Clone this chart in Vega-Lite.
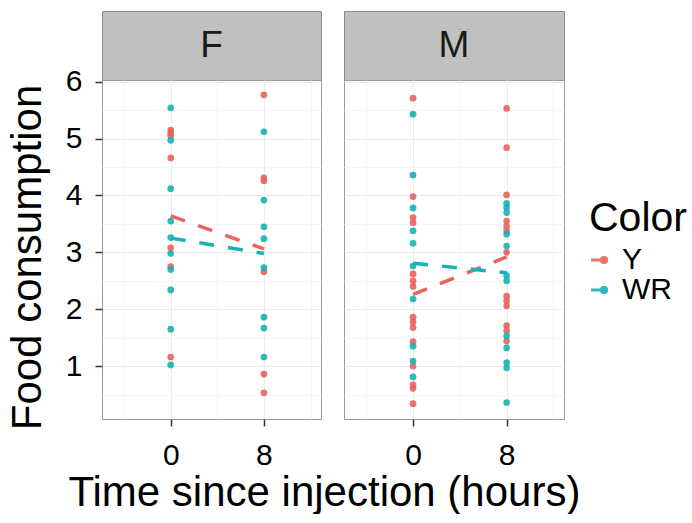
{
  "$schema": "https://vega.github.io/schema/vega-lite/v6.json",
  "padding": {"left": 5, "top": 10, "right": 0, "bottom": 0},
  "background": "white",
  "title": {"text": "Time since injection (hours)", "orient": "bottom", "anchor": "middle", "fontSize": 42, "fontWeight": "normal", "color": "#000000", "offset": 2, "dx": -22},
  "datasets": {
    "pts": [
      {"Sex":"F","Time":0,"Color":"Y","Food":5.15},{"Sex":"F","Time":0,"Color":"Y","Food":5.10},{"Sex":"F","Time":0,"Color":"Y","Food":5.05},{"Sex":"F","Time":0,"Color":"Y","Food":4.66},{"Sex":"F","Time":0,"Color":"Y","Food":3.08},{"Sex":"F","Time":0,"Color":"Y","Food":2.75},{"Sex":"F","Time":0,"Color":"Y","Food":1.16},
      {"Sex":"F","Time":8,"Color":"Y","Food":5.77},{"Sex":"F","Time":8,"Color":"Y","Food":4.31},{"Sex":"F","Time":8,"Color":"Y","Food":4.26},{"Sex":"F","Time":8,"Color":"Y","Food":2.66},{"Sex":"F","Time":8,"Color":"Y","Food":0.86},{"Sex":"F","Time":8,"Color":"Y","Food":0.53},
      {"Sex":"M","Time":0,"Color":"Y","Food":5.71},{"Sex":"M","Time":0,"Color":"Y","Food":3.98},{"Sex":"M","Time":0,"Color":"Y","Food":3.61},{"Sex":"M","Time":0,"Color":"Y","Food":3.52},{"Sex":"M","Time":0,"Color":"Y","Food":2.62},{"Sex":"M","Time":0,"Color":"Y","Food":2.50},{"Sex":"M","Time":0,"Color":"Y","Food":2.40},{"Sex":"M","Time":0,"Color":"Y","Food":1.86},{"Sex":"M","Time":0,"Color":"Y","Food":1.78},{"Sex":"M","Time":0,"Color":"Y","Food":1.68},{"Sex":"M","Time":0,"Color":"Y","Food":1.43},{"Sex":"M","Time":0,"Color":"Y","Food":1.00},{"Sex":"M","Time":0,"Color":"Y","Food":0.67},{"Sex":"M","Time":0,"Color":"Y","Food":0.61},{"Sex":"M","Time":0,"Color":"Y","Food":0.34},
      {"Sex":"M","Time":8,"Color":"Y","Food":5.53},{"Sex":"M","Time":8,"Color":"Y","Food":4.84},{"Sex":"M","Time":8,"Color":"Y","Food":4.01},{"Sex":"M","Time":8,"Color":"Y","Food":3.55},{"Sex":"M","Time":8,"Color":"Y","Food":3.46},{"Sex":"M","Time":8,"Color":"Y","Food":3.38},{"Sex":"M","Time":8,"Color":"Y","Food":3.00},{"Sex":"M","Time":8,"Color":"Y","Food":2.23},{"Sex":"M","Time":8,"Color":"Y","Food":2.15},{"Sex":"M","Time":8,"Color":"Y","Food":2.06},{"Sex":"M","Time":8,"Color":"Y","Food":1.71},{"Sex":"M","Time":8,"Color":"Y","Food":1.62},{"Sex":"M","Time":8,"Color":"Y","Food":1.44},
      {"Sex":"F","Time":0,"Color":"WR","Food":5.54},{"Sex":"F","Time":0,"Color":"WR","Food":4.97},{"Sex":"F","Time":0,"Color":"WR","Food":4.12},{"Sex":"F","Time":0,"Color":"WR","Food":3.55},{"Sex":"F","Time":0,"Color":"WR","Food":3.26},{"Sex":"F","Time":0,"Color":"WR","Food":2.98},{"Sex":"F","Time":0,"Color":"WR","Food":2.70},{"Sex":"F","Time":0,"Color":"WR","Food":2.34},{"Sex":"F","Time":0,"Color":"WR","Food":1.65},{"Sex":"F","Time":0,"Color":"WR","Food":1.02},
      {"Sex":"F","Time":8,"Color":"WR","Food":5.12},{"Sex":"F","Time":8,"Color":"WR","Food":3.92},{"Sex":"F","Time":8,"Color":"WR","Food":3.45},{"Sex":"F","Time":8,"Color":"WR","Food":3.24},{"Sex":"F","Time":8,"Color":"WR","Food":2.73},{"Sex":"F","Time":8,"Color":"WR","Food":1.86},{"Sex":"F","Time":8,"Color":"WR","Food":1.67},{"Sex":"F","Time":8,"Color":"WR","Food":1.16},
      {"Sex":"M","Time":0,"Color":"WR","Food":5.43},{"Sex":"M","Time":0,"Color":"WR","Food":4.36},{"Sex":"M","Time":0,"Color":"WR","Food":3.78},{"Sex":"M","Time":0,"Color":"WR","Food":3.38},{"Sex":"M","Time":0,"Color":"WR","Food":3.16},{"Sex":"M","Time":0,"Color":"WR","Food":2.76},{"Sex":"M","Time":0,"Color":"WR","Food":2.18},{"Sex":"M","Time":0,"Color":"WR","Food":1.35},{"Sex":"M","Time":0,"Color":"WR","Food":1.09},{"Sex":"M","Time":0,"Color":"WR","Food":0.81},
      {"Sex":"M","Time":8,"Color":"WR","Food":3.86},{"Sex":"M","Time":8,"Color":"WR","Food":3.79},{"Sex":"M","Time":8,"Color":"WR","Food":3.70},{"Sex":"M","Time":8,"Color":"WR","Food":3.32},{"Sex":"M","Time":8,"Color":"WR","Food":3.11},{"Sex":"M","Time":8,"Color":"WR","Food":2.59},{"Sex":"M","Time":8,"Color":"WR","Food":2.50},{"Sex":"M","Time":8,"Color":"WR","Food":1.53},{"Sex":"M","Time":8,"Color":"WR","Food":1.32},{"Sex":"M","Time":8,"Color":"WR","Food":1.06},{"Sex":"M","Time":8,"Color":"WR","Food":0.97},{"Sex":"M","Time":8,"Color":"WR","Food":0.36}
    ],
    "lines": [
      {"Sex":"F","Time":0,"Color":"Y","Food":3.64},{"Sex":"F","Time":8,"Color":"Y","Food":3.06},
      {"Sex":"F","Time":0,"Color":"WR","Food":3.25},{"Sex":"F","Time":8,"Color":"WR","Food":2.98},
      {"Sex":"M","Time":0,"Color":"Y","Food":2.26},{"Sex":"M","Time":8,"Color":"Y","Food":2.92},
      {"Sex":"M","Time":0,"Color":"WR","Food":2.81},{"Sex":"M","Time":8,"Color":"WR","Food":2.64}
    ],
    "strips": [{"Sex":"F"},{"Sex":"M"}]
  },
  "config": {
    "font": "Liberation Sans",
    "view": {"stroke": "#999999", "strokeWidth": 1},
    "axis": {
      "domain": false,
      "labelColor": "#000000",
      "labelFontSize": 30,
      "labelFlush": false,
      "labelOverlap": false,
      "titleColor": "#000000",
      "titleFontSize": 42,
      "titleFontWeight": "normal",
      "tickColor": "#333333",
      "tickWidth": 1.5,
      "tickSize": 7,
      "labelPadding": 8,
      "gridWidth": 1
    }
  },
  "spacing": 21,
  "hconcat": [
    {
      "spacing": 0,
      "bounds": "flush",
      "vconcat": [
        {
          "width": 219, "height": 69,
          "view": {"fill": "#C0C0C0", "stroke": "#8C8C8C"},
          "data": {"name": "strips"},
          "transform": [{"filter": "datum.Sex === 'F'"}],
          "mark": {"type": "text", "fontSize": 37, "color": "#1A1A1A", "baseline": "middle", "align": "center"},
          "encoding": {"text": {"field": "Sex"}}
        },
        {
          "width": 219, "height": 339,
          "encoding": {
            "x": {"field": "Time", "type": "quantitative",
              "scale": {"domain": [-5.9, 12.9], "nice": false, "zero": false},
              "axis": {"values": [-4, 0, 4, 8, 12], "title": null, "labelPadding": 14,
                "labelExpr": "datum.value % 8 !== 0 ? '' : '' + datum.value",
                "tickOpacity": {"condition": {"test": "datum.value % 8 !== 0", "value": 0}, "value": 1},
                "gridColor": {"condition": {"test": "datum.value % 8 !== 0", "value": "#F5F5F5"}, "value": "#EBEBEB"}}},
            "y": {"field": "Food", "type": "quantitative",
              "scale": {"domain": [0.07, 6.03], "nice": false, "zero": false},
              "axis": {"values": [0.5, 1, 1.5, 2, 2.5, 3, 3.5, 4, 4.5, 5, 5.5, 6], "title": "Food consumption", "titlePadding": 16, "titleY": 177, "labelPadding": 13,
                "labelExpr": "datum.value % 1 !== 0 ? '' : '' + datum.value",
                "tickOpacity": {"condition": {"test": "datum.value % 1 !== 0", "value": 0}, "value": 1},
                "gridColor": {"condition": {"test": "datum.value % 1 !== 0", "value": "#F5F5F5"}, "value": "#EBEBEB"}}},
            "color": {"field": "Color", "type": "nominal",
              "scale": {"domain": ["Y", "WR"], "range": ["#E9625D", "#17B1B4"]},
              "legend": {"orient": "none", "legendX": 487, "legendY": 188, "title": "Color", "titleFontSize": 41, "titleFontWeight": "normal", "titleColor": "#000000", "labelFontSize": 30, "labelColor": "#000000", "rowPadding": 0,
                "symbolType": "M-1,0L0,0M0.2,0A0.2,0.2 0 1,1 -0.2,0A0.2,0.2 0 1,1 0.2,0Z", "symbolSize": 676, "symbolStrokeWidth": 3, "symbolOpacity": 1, "labelOffset": 3}}
          },
          "layer": [
            {"data": {"name": "pts"}, "transform": [{"filter": "datum.Sex === 'F'"}],
              "mark": {"type": "circle", "size": 45, "opacity": 0.9}},
            {"data": {"name": "lines"}, "transform": [{"filter": "datum.Sex === 'F'"}],
              "mark": {"type": "line", "strokeWidth": 3.5, "strokeDash": [15, 14]},
              "encoding": {"detail": {"field": "Color"}}}
          ]
        }
      ]
    },
    {
      "spacing": 0,
      "bounds": "flush",
      "vconcat": [
        {
          "width": 220, "height": 69,
          "view": {"fill": "#C0C0C0", "stroke": "#8C8C8C"},
          "data": {"name": "strips"},
          "transform": [{"filter": "datum.Sex === 'M'"}],
          "mark": {"type": "text", "fontSize": 37, "color": "#1A1A1A", "baseline": "middle", "align": "center"},
          "encoding": {"text": {"field": "Sex"}}
        },
        {
          "width": 220, "height": 339,
          "encoding": {
            "x": {"field": "Time", "type": "quantitative",
              "scale": {"domain": [-5.9, 12.9], "nice": false, "zero": false},
              "axis": {"values": [-4, 0, 4, 8, 12], "title": null, "labelPadding": 14,
                "labelExpr": "datum.value % 8 !== 0 ? '' : '' + datum.value",
                "tickOpacity": {"condition": {"test": "datum.value % 8 !== 0", "value": 0}, "value": 1},
                "gridColor": {"condition": {"test": "datum.value % 8 !== 0", "value": "#F5F5F5"}, "value": "#EBEBEB"}}},
            "y": {"field": "Food", "type": "quantitative",
              "scale": {"domain": [0.07, 6.03], "nice": false, "zero": false},
              "axis": {"values": [0.5, 1, 1.5, 2, 2.5, 3, 3.5, 4, 4.5, 5, 5.5, 6], "title": null, "labels": false, "ticks": false,
                "gridColor": {"condition": {"test": "datum.value % 1 !== 0", "value": "#F5F5F5"}, "value": "#EBEBEB"}}},
            "color": {"field": "Color", "type": "nominal",
              "scale": {"domain": ["Y", "WR"], "range": ["#E9625D", "#17B1B4"]}}
          },
          "layer": [
            {"data": {"name": "pts"}, "transform": [{"filter": "datum.Sex === 'M'"}],
              "mark": {"type": "circle", "size": 45, "opacity": 0.9}},
            {"data": {"name": "lines"}, "transform": [{"filter": "datum.Sex === 'M'"}],
              "mark": {"type": "line", "strokeWidth": 3.5, "strokeDash": [15, 14]},
              "encoding": {"detail": {"field": "Color"}}}
          ]
        }
      ]
    }
  ]
}
